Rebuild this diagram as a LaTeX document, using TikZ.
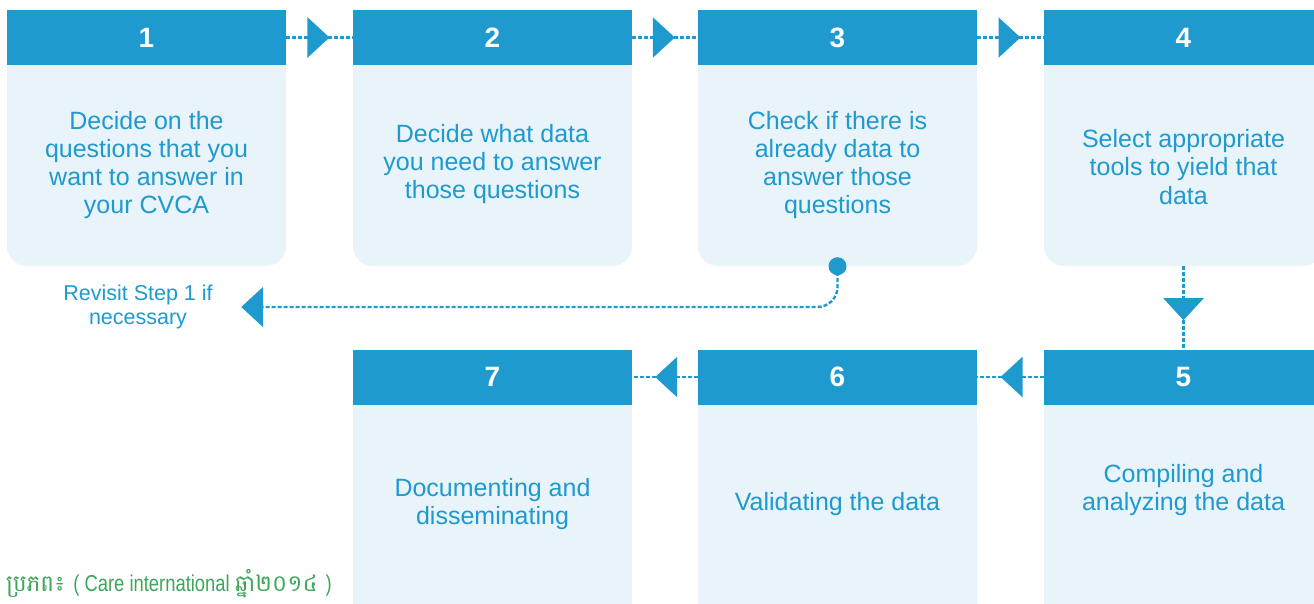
\documentclass[tikz,border=0pt]{standalone}
\usepackage{fontspec}
\setmainfont{Liberation Sans}
\newfontfamily\khmerfont[Script=Khmer]{Battambang}
\newfontfamily\srcfont[FakeStretch=0.8]{Liberation Sans}
\usetikzlibrary{arrows.meta,decorations.markings}
\definecolor{stepblue}{HTML}{1E9ACF}
\definecolor{steplight}{HTML}{E8F3FA}
\definecolor{srcgreen}{HTML}{3DA65A}
\tikzset{
  stephead/.style={fill=stepblue,minimum width=279pt,minimum height=55pt,inner sep=0pt,
    text=white,font=\fontsize{28}{28}\selectfont\bfseries},
  stepbody/.style={fill=steplight,rounded corners=20pt,minimum width=279pt,inner sep=0pt},
  steptext/.style={text=stepblue,align=center,font=\fontsize{25}{28.3}\selectfont},
  dashline/.style={stepblue,line width=2.4pt,dash pattern=on 4pt off 2pt},
  link/.style={dashline,postaction=decorate,decoration={markings,
    mark=at position 0.65 with {\arrow{Triangle[length=22pt,width=40pt]}}}},
}
\begin{document}
\begin{tikzpicture}[x=1pt,y=-1pt]
  \clip (0,0) rectangle (1314,603);
  \foreach \n/\cx/\hy/\by/\bh/\ty/\txt in {
    1/146.5/37.5/165.5/201/165/{Decide on the\\questions that you\\want to answer in\\your CVCA},
    2/492.5/37.5/165.5/201/164/{Decide what data\\you need to answer\\those questions},
    3/837.5/37.5/165.5/201/165/{Check if there is\\already data to\\answer those\\questions},
    4/1183.5/37.5/165.5/201/167/{Select appropriate\\tools to yield that\\data},
    5/1183.5/377/522.5/235/490/{Compiling and\\analyzing the data},
    6/837.5/377/522.5/235/504/{Validating the data},
    7/492.5/377/522.5/235/504/{Documenting and\\disseminating}}{
    \node[stepbody,minimum height=\bh pt] (b\n) at (\cx,\by) {};
    \fill[steplight] (b\n.north west) rectangle ([yshift=-20pt]b\n.north east);
    \node[stephead] (h\n) at (\cx,\hy) {\n};
    \node[steptext] (t\n) at (\cx,\ty) {\txt};
  }
  \draw[link] (h1.east) -- (h2.west);
  \draw[link] (h2.east) -- (h3.west);
  \draw[link] (h3.east) -- (h4.west);
  \draw[link] (b4.south) -- (h5.north);
  \draw[link] (h5.west) -- (h6.east);
  \draw[link] (h6.west) -- (h7.east);
  \node[text=stepblue,align=center,font=\fontsize{21.5}{24}\selectfont] (rv) at (138,307)
    {Revisit Step 1 if\\necessary};
  \node[circle,fill=stepblue,minimum size=18pt,inner sep=0pt] (dot) at (b3.south) {};
  \draw[dashline,rounded corners=20pt,shorten >=25pt,-{Triangle[length=22pt,width=40pt]}]
    (dot.center) |- (rv.east);
  \node[anchor=base west,text=srcgreen,inner sep=0pt] (src) at (6,591)
    {\khmerfont\fontsize{23}{23}\selectfont ប្រភព៖ \srcfont\fontsize{23}{23}\selectfont( Care international \khmerfont\fontsize{23}{23}\selectfont ឆ្នាំ២០១៤ \srcfont\fontsize{23}{23}\selectfont)};
\end{tikzpicture}
\end{document}
